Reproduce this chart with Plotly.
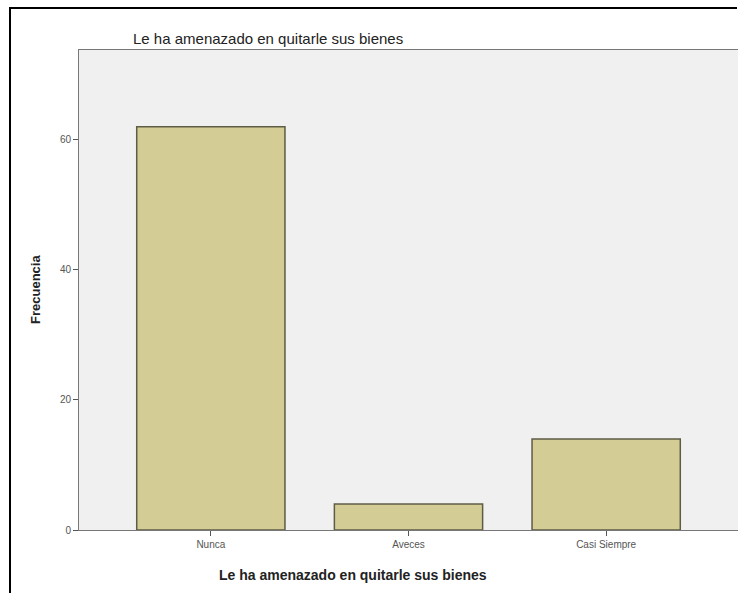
import plotly.graph_objects as go

# Frequencies
categorias = ["Nunca", "Aveces", "Casi Siempre"]
frecuencias = [62, 4, 14]
y_ticks = [0, 20, 40, 60]

titulo = "Le ha amenazado en quitarle sus bienes"

W, H = 738, 593
L, R, T, B = 79, 0, 50, 63
pw, ph = W - L - R, H - T - B


def px_x(x):
    return (x - L) / pw


def px_y(y):
    return (H - B - y) / ph


def label(text, x, y, size, angle=0):
    return dict(text=text, x=px_x(x), y=px_y(y), xref="paper", yref="paper",
                xanchor="center", yanchor="middle", showarrow=False,
                textangle=angle, font=dict(size=size, color="#222"))


fig = go.Figure()
fig.add_trace(go.Bar(
    x=categorias, y=frecuencias, width=0.75,
    marker=dict(color="#d3cd95", line=dict(color="#5e5c45", width=1.5)),
))

fig.update_layout(
    width=W, height=H,
    margin=dict(l=L, r=R, t=T, b=B),
    paper_bgcolor="white",
    plot_bgcolor="#f0f0f0",
    showlegend=False,
    font=dict(family="Liberation Sans, Arial, sans-serif", color="#222"),
    xaxis=dict(
        range=[-0.667, 2.667], showline=True, linecolor="#777", linewidth=1,
        mirror=True, ticks="outside", ticklen=5, tickcolor="#555",
        tickfont=dict(size=10, color="#555"), showgrid=False,
    ),
    yaxis=dict(
        range=[0, 73.8], tickvals=y_ticks, showline=True, linecolor="#777",
        linewidth=1, mirror=True, ticks="outside", ticklen=5, tickcolor="#555",
        tickfont=dict(size=10, color="#555"), showgrid=False, zeroline=False,
    ),
    annotations=[
        label(titulo, 268, 39, 15),
        label("<b>" + titulo + "</b>", 353, 575, 14),
        label("<b>Frecuencia</b>", 35, 290, 13, angle=-90),
    ],
    shapes=[
        dict(type="line", xref="paper", yref="paper",
             x0=px_x(10), x1=px_x(10), y0=px_y(7), y1=px_y(600),
             line=dict(color="black", width=2)),
        dict(type="line", xref="paper", yref="paper",
             x0=px_x(10), x1=px_x(737), y0=px_y(8), y1=px_y(8),
             line=dict(color="black", width=2)),
    ],
)

# page has a default body margin; drop it so the figure sits at 0,0
fig.write_html("out.html", config={"displayModeBar": False},
               post_script="document.body.style.margin='0';")
